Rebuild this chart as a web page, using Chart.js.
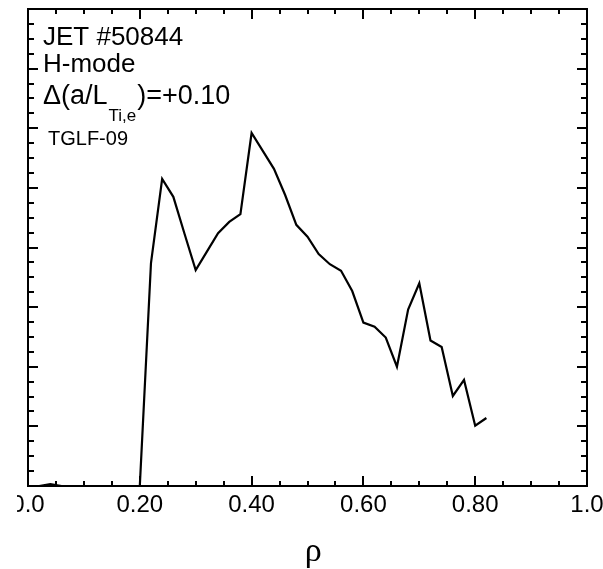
<!DOCTYPE html>
<html>
<head>
<meta charset="utf-8">
<script src="https://cdn.jsdelivr.net/npm/chart.js@4.4.0/dist/chart.umd.min.js"></script>
<style>
html,body{margin:0;padding:0;background:#fff;}
#wrap{width:603px;height:569px;}
</style>
</head>
<body>
<div id="wrap"><canvas id="c" width="603" height="569"></canvas></div>
<script>
// ---- data ----
const rho = [0.00,0.02,0.04,0.06,0.08,0.10,0.12,0.14,0.16,0.18,0.20,
             0.22,0.24,0.26,0.28,0.30,0.32,0.34,0.36,0.38,0.40,
             0.42,0.44,0.46,0.48,0.50,0.52,0.54,0.56,0.58,0.60,
             0.62,0.64,0.66,0.68,0.70,0.72,0.74,0.76,0.78,0.80,0.82];
const fluxValues = [0.00,0.00,0.03,0.00,0.00,0.00,0.00,0.00,0.00,0.00,0.00,
             3.74,5.15,4.85,4.23,3.62,3.93,4.24,4.43,4.56,5.92,
             5.62,5.32,4.88,4.38,4.18,3.89,3.72,3.61,3.27,2.74,
             2.67,2.49,2.00,2.96,3.40,2.44,2.33,1.51,1.78,1.01,1.14];
const xTickLabels = ["0.0","0.20","0.40","0.60","0.80","1.0"];
const xAxisTitle = "\u2004ρ";
const infoLines = ["JET #50844","H-mode"];
const deltaPrefix = "Δ(a/L";
const deltaSub = "Ti,e";
const deltaSuffix = ")=+0.10";
const modelLabel = "TGLF-09";

const X_MIN = 0, X_MAX = 1, Y_MIN = 0, Y_MAX = 8;
const X_MAJOR = 0.2, X_MINOR = 0.05, Y_MAJOR = 1, Y_MINOR = 0.25;

const frameTicks = {
  id: 'frameTicks',
  afterDatasetsDraw(chart) {
    const {ctx, chartArea: {left, right, top, bottom}, scales: {x, y}} = chart;
    ctx.save();
    ctx.strokeStyle = '#000';
    ctx.lineWidth = 2;
    ctx.beginPath();
    const nx = Math.round((X_MAX - X_MIN) / X_MINOR);
    for (let i = 0; i <= nx; i++) {
      const v = X_MIN + i * X_MINOR;
      const px = Math.round(x.getPixelForValue(v));
      const major = (i % Math.round(X_MAJOR / X_MINOR)) === 0;
      const L = major ? 10 : 5;
      ctx.moveTo(px, bottom); ctx.lineTo(px, bottom - L);
      ctx.moveTo(px, top); ctx.lineTo(px, top + L);
    }
    const ny = Math.round((Y_MAX - Y_MIN) / Y_MINOR);
    for (let i = 0; i <= ny; i++) {
      const v = Y_MIN + i * Y_MINOR;
      const py = Math.round(y.getPixelForValue(v));
      const major = (i % Math.round(Y_MAJOR / Y_MINOR)) === 0;
      const L = major ? 10 : 6;
      ctx.moveTo(left, py); ctx.lineTo(left + L, py);
      ctx.moveTo(right, py); ctx.lineTo(right - L, py);
    }
    ctx.stroke();
    ctx.strokeRect(left, top, right - left, bottom - top);
    ctx.restore();
  },
  afterDraw(chart) {
    const {ctx} = chart;
    ctx.save();
    // left label is partly hidden in the reference
    ctx.fillStyle = '#fff';
    ctx.fillRect(0, 489, 17, 40);
    ctx.fillStyle = '#000';
    ctx.textBaseline = 'alphabetic';
    ctx.textAlign = 'left';
    ctx.font = '26px "Liberation Sans", Arial, sans-serif';
    ctx.fillText(infoLines[0], 43, 45);
    ctx.fillText(infoLines[1], 43, 72);
    ctx.font = '27px "Liberation Sans", Arial, sans-serif';
    ctx.fillText(deltaPrefix, 43, 104);
    let xx = 43 + ctx.measureText(deltaPrefix).width + 1;
    ctx.font = '17px "Liberation Sans", Arial, sans-serif';
    ctx.fillText(deltaSub, xx, 121);
    xx += ctx.measureText(deltaSub).width + 1;
    ctx.font = '27px "Liberation Sans", Arial, sans-serif';
    ctx.fillText(deltaSuffix, xx, 104);
    ctx.font = '20px "Liberation Sans", Arial, sans-serif';
    ctx.fillText(modelLabel, 48, 145);
    ctx.restore();
  }
};

new Chart(document.getElementById('c'), {
  type: 'line',
  data: {
    datasets: [{
      data: rho.map((r, i) => ({x: r, y: fluxValues[i]})),
      borderColor: '#000',
      borderWidth: 2.2,
      pointRadius: 0,
      tension: 0,
      fill: false
    }]
  },
  options: {
    responsive: false,
    animation: false,
    devicePixelRatio: 1,
    layout: {padding: {left: 0, top: 9, right: 16, bottom: 0}},
    plugins: {legend: {display: false}, tooltip: {enabled: false}},
    scales: {
      x: {
        type: 'linear', min: X_MIN, max: X_MAX,
        grid: {display: false, drawTicks: false},
        border: {display: false},
        ticks: {
          stepSize: X_MAJOR, padding: 5, maxRotation: 0, autoSkip: false,
          color: '#000',
          font: {family: '"Liberation Sans", Arial, sans-serif', size: 24},
          callback: (v, i) => xTickLabels[i]
        },
        title: {
          display: true, text: xAxisTitle, color: '#000',
          font: {family: '"Liberation Serif", "Times New Roman", serif', size: 34},
          padding: {top: 0, bottom: -3}
        },
        afterFit: (s) => { s.height = 83; s.paddingLeft = 0; s.paddingRight = 0; }
      },
      y: {
        type: 'linear', min: Y_MIN, max: Y_MAX,
        grid: {display: false, drawTicks: false},
        border: {display: false},
        ticks: {display: false},
        afterFit: (s) => { s.width = 28; }
      }
    }
  },
  plugins: [frameTicks]
});
</script>
</body>
</html>
